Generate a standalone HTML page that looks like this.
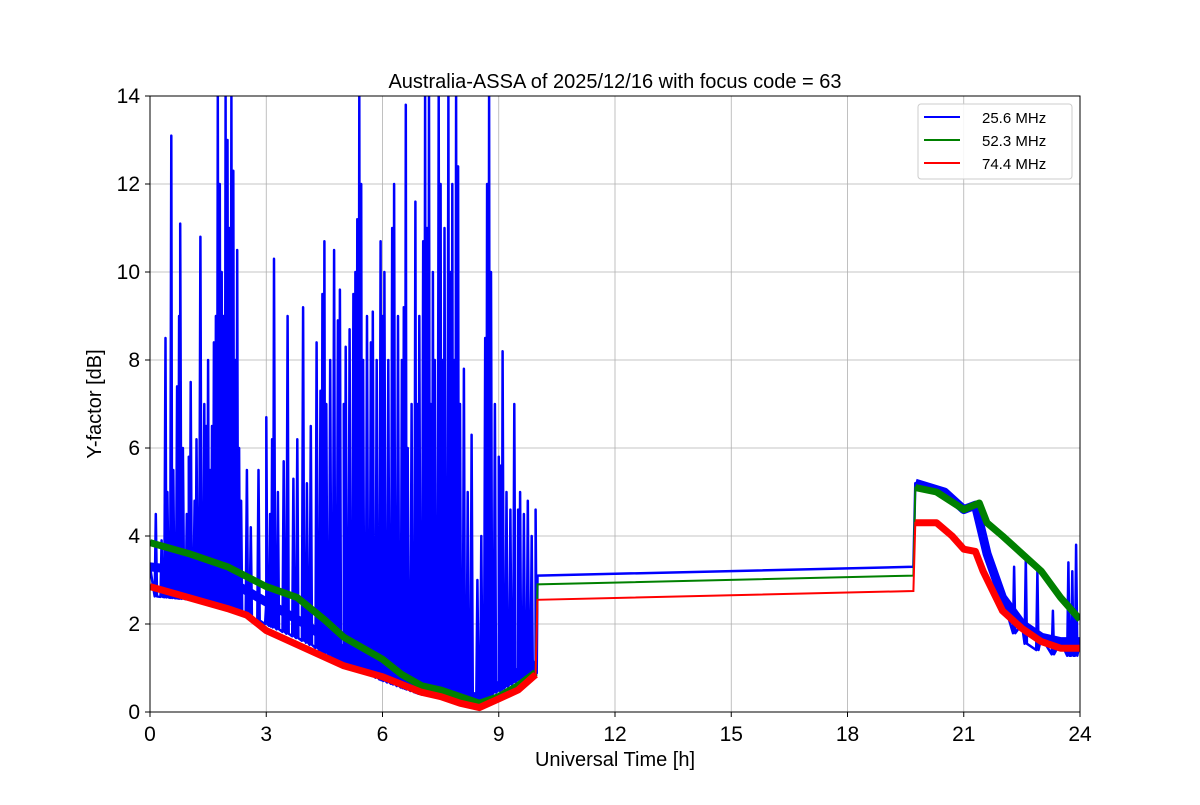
<!DOCTYPE html>
<html><head><meta charset="utf-8"><style>
body{margin:0;background:#fff;}
svg text{font-family:"Liberation Sans","DejaVu Sans",sans-serif;}
</style></head><body>
<svg id="chart" width="1200" height="800" viewBox="0 0 1200 800" xmlns="http://www.w3.org/2000/svg">
<rect width="1200" height="800" fill="#fff"/>
<defs><clipPath id="clip"><rect x="150" y="96" width="930" height="616"/></clipPath></defs>
<g id="grid"></g>
<g id="series" clip-path="url(#clip)"></g>
<rect x="150" y="96" width="930" height="616" fill="none" stroke="#000" stroke-width="1"/>
<g id="ticks"></g>
<text x="615" y="88" text-anchor="middle" font-size="20">Australia-ASSA of 2025/12/16 with focus code = 63</text>
<text x="615" y="766" text-anchor="middle" font-size="20">Universal Time [h]</text>
<text x="101" y="404" text-anchor="middle" font-size="20" transform="rotate(-90 101 404)">Y-factor [dB]</text>
<g>
<rect x="918" y="104" width="154" height="75" rx="3" fill="#fff" fill-opacity="0.85" stroke="#ccc"/>
<g><line x1="924" y1="117" x2="960" y2="117" stroke="#0000ff" stroke-width="2"/><text x="982" y="123" font-size="15">25.6 MHz</text></g>
<g><line x1="924" y1="140" x2="960" y2="140" stroke="#008000" stroke-width="2"/><text x="982" y="146" font-size="15">52.3 MHz</text></g>
<g><line x1="924" y1="163" x2="960" y2="163" stroke="#ff0000" stroke-width="2"/><text x="982" y="169" font-size="15">74.4 MHz</text></g>
</g>
</svg>
<script>
const xTicks=[0,3,6,9,12,15,18,21,24];
const yTicks=[0,2,4,6,8,10,12,14];
const blueBaseT=[0,1,2,3,4,5,6,7,8,8.5,9,9.5,9.95,10,19.7,19.75,20.5,21,21.3,21.6,22,22.5,23,23.5,24];
const blueBaseV=[3.3,3.2,3.0,2.5,2.0,1.4,0.9,0.5,0.35,0.35,0.6,0.9,1.1,3.1,3.3,5.2,5.0,4.6,4.7,3.6,2.6,2.0,1.7,1.6,1.6];
const spikeT=[0.15,0.3,0.4,0.45,0.55,0.6,0.7,0.75,0.78,0.85,0.95,1.0,1.05,1.15,1.2,1.3,1.4,1.45,1.5,1.55,1.6,1.65,1.7,1.75,1.8,1.85,1.9,1.95,2.0,2.05,2.1,2.15,2.2,2.25,2.3,2.35,2.5,2.6,2.8,3.0,3.1,3.15,3.2,3.3,3.45,3.55,3.7,3.8,3.95,4.05,4.15,4.3,4.4,4.45,4.5,4.55,4.65,4.75,4.85,4.9,5.0,5.05,5.15,5.25,5.3,5.35,5.4,5.45,5.5,5.6,5.7,5.75,5.85,5.95,6.0,6.05,6.15,6.25,6.3,6.4,6.5,6.55,6.6,6.65,6.75,6.85,6.9,6.95,7.05,7.1,7.15,7.2,7.25,7.3,7.35,7.45,7.5,7.55,7.6,7.7,7.75,7.8,7.85,7.9,7.95,8.0,8.1,8.2,8.3,8.45,8.55,8.65,8.7,8.75,8.8,8.9,9.0,9.05,9.1,9.2,9.3,9.4,9.5,9.55,9.65,9.75,9.85,9.95,22.3,22.6,22.9,23.3,23.7,23.8,23.9];
const spikeV=[4.5,3.9,8.5,5,13.1,5.5,7.4,9,11.1,6,4.5,5.8,7.5,4.8,6.2,10.8,7,6.5,8,5.5,6.5,8.4,9,14,12,10,9,14,13,11,14,12.3,8,10.5,6,4.8,5.5,4.2,5.5,6.7,4.5,6.2,10.3,5,5.7,9,5.3,6.2,9.2,5.2,6.5,8.4,7.3,9.5,10.7,7,8,10.5,8.9,9.6,7,8.3,8.7,9.5,10,11.2,14,12,8,9,8.4,9.1,8,10.7,9,10,8,11,12,9,8,9.2,13.8,6,7,11.6,7,9,10.7,14,11,14,7,10,8,14,12,8,11,14,10,12,8,14,12.4,7,7.8,5,6.3,3,4,8.5,12,14,10,7,5.8,5.6,8.2,5,4.6,7,4.6,5,4.5,4.8,4,4.6,3.3,3.5,3.2,2.3,3.4,3.2,3.8];
const greenT=[0,1,2,3,3.8,4.5,5,6,6.5,7,7.5,8,8.5,9,9.5,9.95,10,19.7,19.75,20.3,21,21.4,21.6,22,22.5,23,23.5,24];
const greenV=[3.85,3.6,3.3,2.85,2.6,2.1,1.7,1.2,0.85,0.6,0.5,0.35,0.2,0.35,0.6,0.9,2.9,3.1,5.1,5.0,4.6,4.75,4.3,4.0,3.6,3.2,2.6,2.1];
const redT=[0,1,2,2.5,3,4,5,6,7,7.5,8,8.5,9,9.5,9.95,10,19.7,19.75,20.3,20.7,21,21.3,21.5,22,22.5,23,23.5,24];
const redV=[2.85,2.6,2.35,2.2,1.85,1.45,1.05,0.8,0.45,0.35,0.2,0.1,0.3,0.5,0.85,2.55,2.75,4.3,4.3,4.0,3.7,3.65,3.2,2.3,1.9,1.6,1.45,1.45];

const X=t=>150+t*930/24, Y=v=>712-v*616/14;
const NS="http://www.w3.org/2000/svg";
const grid=document.getElementById('grid'),ticks=document.getElementById('ticks'),ser=document.getElementById('series');
function mk(tag,at,parent){const e=document.createElementNS(NS,tag);for(const k in at)e.setAttribute(k,at[k]);parent.appendChild(e);return e;}
xTicks.forEach(t=>{
 const g=mk('line',{x1:X(t),x2:X(t),y1:96,y2:712,stroke:'#b0b0b0','stroke-width':0.8},grid);
 
 
 mk('line',{x1:X(t),x2:X(t),y1:712,y2:717,stroke:'#000'},ticks);
 const l=mk('text',{x:X(t),y:741,'text-anchor':'middle','font-size':21},ticks);l.textContent=t;
 
 
});
yTicks.forEach(v=>{
 const g=mk('line',{x1:150,x2:1080,y1:Y(v),y2:Y(v),stroke:'#b0b0b0','stroke-width':0.8},grid);
 
 
 mk('line',{x1:145,x2:150,y1:Y(v),y2:Y(v),stroke:'#000'},ticks);
 const l=mk('text',{x:140,y:Y(v)+7,'text-anchor':'end','font-size':21},ticks);l.textContent=v;
 
 
});
function interp(T,V,t){if(t<=T[0])return V[0];for(let i=1;i<T.length;i++){if(t<=T[i]){const f=(t-T[i-1])/(T[i]-T[i-1]);return V[i-1]+f*(V[i]-V[i-1]);}}return V[V.length-1];}
function pathOf(T,V,idx){return 'M'+idx.map(i=>X(T[i]).toFixed(1)+','+Y(V[i]).toFixed(1)).join('L');}
// blue
let pts=[];
blueBaseT.forEach((t,i)=>pts.push([t,blueBaseV[i]]));
spikeT.forEach((t,i)=>{const b=interp(blueBaseT,blueBaseV,t);pts.push([t-0.03,b*0.8],[t,Math.min(spikeV[i],14.5)],[t+0.03,b*0.8]);});
pts.sort((a,b)=>a[0]-b[0]);
const bp=mk('path',{d:'M'+pts.map(p=>X(p[0]).toFixed(1)+','+Y(p[1]).toFixed(1)).join('L'),fill:'none',stroke:'#0000ff','stroke-width':2.5,'stroke-linejoin':'round'},ser);


[[0,9.97],[19.75,24]].forEach(r=>{
 const idx=blueBaseT.map((t,i)=>i).filter(i=>blueBaseT[i]>=r[0]&&blueBaseT[i]<=r[1]);
 const q=mk('path',{d:pathOf(blueBaseT,blueBaseV,idx),fill:'none',stroke:'#0000ff','stroke-width':9,'stroke-linejoin':'round'},ser);
 
 
});
function line(T,V,color,name){
 const p=mk('path',{d:pathOf(T,V,T.map((t,i)=>i)),fill:'none',stroke:color,'stroke-width':2},ser);
 
 
 [[0,9.97],[19.75,24]].forEach(r=>{
  const idx=T.map((t,i)=>i).filter(i=>T[i]>=r[0]&&T[i]<=r[1]);
  const q=mk('path',{d:pathOf(T,V,idx),fill:'none',stroke:color,'stroke-width':7,'stroke-linejoin':'round'},ser);
  
  
 });
}
line(greenT,greenV,'#008000','series-52-3-mhz');
line(redT,redV,'#ff0000','series-74-4-mhz');
</script>
</body></html>
